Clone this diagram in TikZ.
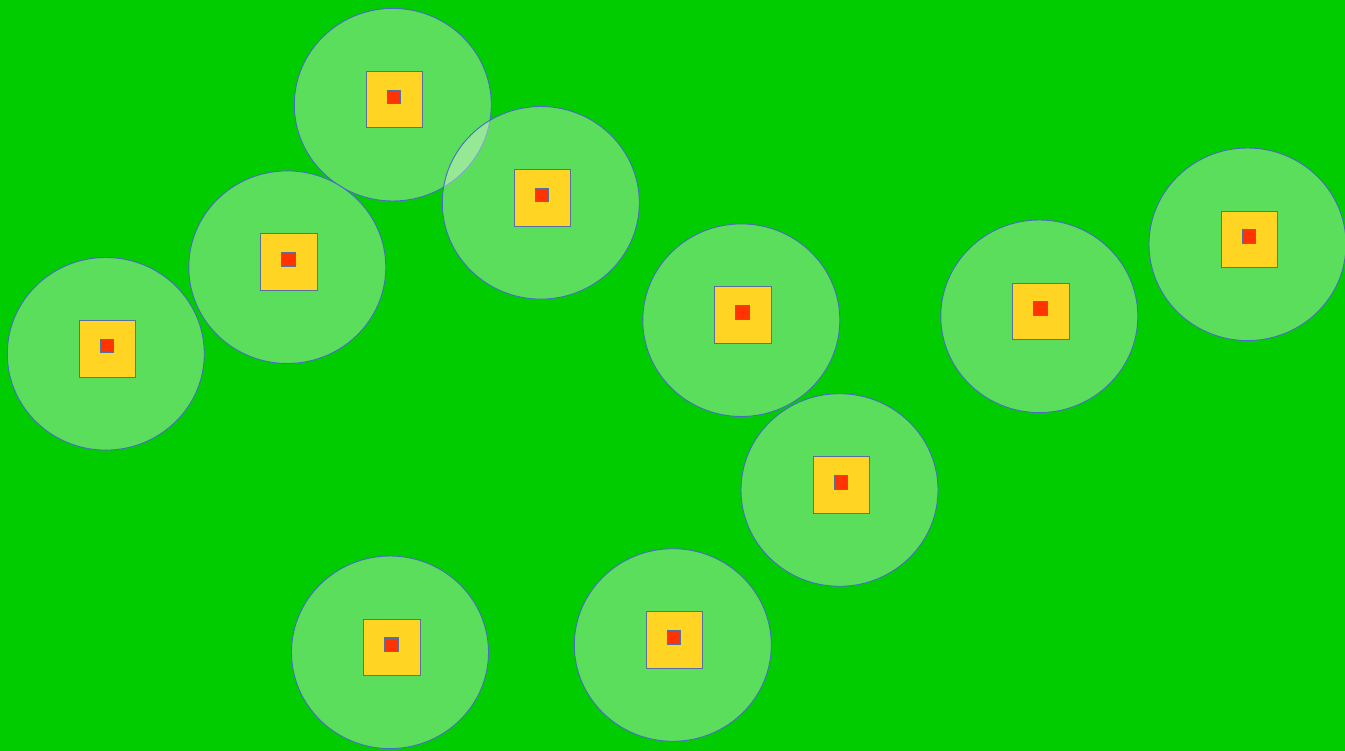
\documentclass[tikz,border=0pt]{standalone}
\usetikzlibrary{shapes.geometric}
\definecolor{bg}{RGB}{0,204,0}
\definecolor{edge}{RGB}{72,108,196}
\definecolor{sqedge}{RGB}{88,112,160}
\definecolor{yel}{RGB}{255,212,34}
\definecolor{redc}{RGB}{255,52,0}
\tikzset{
  zone/.style={ellipse, draw=edge, line width=0.9pt, fill=white, fill opacity=0.355, draw opacity=1, minimum width=197pt, minimum height=192.6pt, inner sep=0pt},
  outerbox/.style={rectangle, draw=sqedge, line width=1pt, fill=yel, minimum size=56.5pt, inner sep=0pt},
  innerbox/.style={rectangle, draw=sqedge, line width=1.1pt, fill=redc, minimum size=13.5pt, inner sep=0pt}
}
\begin{document}
\begin{tikzpicture}[x=1pt,y=-1pt]
\fill[bg] (0,0) rectangle (1345,751);
\useasboundingbox (0,0) rectangle (1345,751);
\foreach \n/\cx/\cy in {a/392.8/104.7, b/540.8/202.8, c/287.3/267.2, d/105.8/353.8, e/741.3/320.2, f/839.5/490, g/1039.3/316.3, h/1247.5/244.3, i/390/652.3, j/672.8/645}{
  \node[zone] (c\n) at (\cx,\cy) {};
}
\foreach \n/\cx/\cy in {a/392.8/104.7, b/540.8/202.8, c/287.3/267.2, d/105.8/353.8, e/741.3/320.2, f/839.5/490, g/1039.3/316.3, h/1247.5/244.3, i/390/652.3, j/672.8/645}{
  \node[outerbox] (y\n) at (\cx+1.8,\cy-5) {};
  \node[innerbox] (r\n) at (\cx+1.3,\cy-7.6) {};
}
\end{tikzpicture}
\end{document}
